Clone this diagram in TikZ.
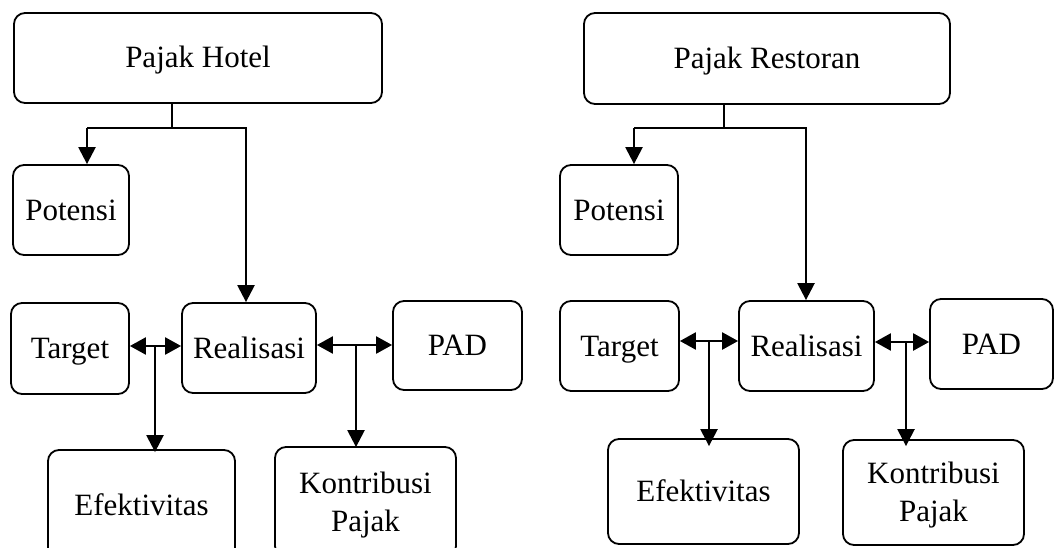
\documentclass[tikz,border=0pt]{standalone}
\usepackage{fontspec}
\setmainfont{Liberation Serif}
\usetikzlibrary{arrows.meta}
\begin{document}
\begin{tikzpicture}[x=1pt,y=-1pt,
  box/.style={draw, line width=1.8pt, rounded corners=11pt, inner sep=0pt, align=center,
    text height=24pt, text depth=4pt,
    font=\fontsize{31}{38}\selectfont},
  twoline/.style={text height=62pt},
  conn/.style={line width=2.4pt},
  darr/.style={conn, {Triangle[length=16pt,width=17pt]}-{Triangle[length=16pt,width=17pt]}},
  varr/.style={conn, -{Triangle[length=17pt,width=17pt]}}]
\clip (0,0) rectangle (1062,548);
\fill[white] (0,0) rectangle (1062,548);
% ---------- left: Pajak Hotel ----------
\node[box, minimum width=368pt, minimum height=90pt] (hotel) at (198,58) {Pajak Hotel};
\node[box, minimum width=116pt, minimum height=90pt] (potL) at (71,210) {Potensi};
\node[box, minimum width=118pt, minimum height=91pt] (tarL) at (70,348.5) {Target};
\node[box, minimum width=134pt, minimum height=90pt] (reaL) at (249,348) {Realisasi};
\node[box, minimum width=129pt, minimum height=89pt] (padL) at (457.5,345.5) {PAD};
\node[box, minimum width=187pt, minimum height=110pt] (efeL) at (141.5,505) {Efektivitas};
\node[box, twoline, minimum width=181pt, minimum height=110pt] (konL) at (365.5,502) {Kontribusi\\Pajak};
\coordinate (jL) at (172,128);
\coordinate (aL) at (87,128);
\coordinate (bL) at (246,128);
\coordinate (tL) at (155,346);
\coordinate (pL) at (356,345);
\draw[conn] (hotel.south -| jL) -- (jL);
\draw[conn] (aL) -- ([xshift=1pt]bL);
\draw[varr] (aL) -- (aL |- potL.north);
\draw[varr] (bL) -- (bL |- reaL.north);
\draw[darr] (tarL.east |- tL) -- (reaL.west |- tL);
\draw[varr] (tL) -- ([yshift=-3pt]tL |- efeL.north);
\draw[darr] (reaL.east |- pL) -- (padL.west |- pL);
\draw[varr] (pL) -- ([yshift=-1pt]pL |- konL.north);
% ---------- right: Pajak Restoran ----------
\node[box, minimum width=366pt, minimum height=91pt] (rest) at (767,58.5) {Pajak Restoran};
\node[box, minimum width=118pt, minimum height=90pt] (potR) at (619,210) {Potensi};
\node[box, minimum width=119pt, minimum height=90pt] (tarR) at (619.5,346) {Target};
\node[box, minimum width=135pt, minimum height=90pt] (reaR) at (806.5,346) {Realisasi};
\node[box, minimum width=123pt, minimum height=90pt] (padR) at (991.5,344) {PAD};
\node[box, minimum width=191pt, minimum height=105pt] (efeR) at (703.5,491.5) {Efektivitas};
\node[box, twoline, minimum width=181pt, minimum height=105pt] (konR) at (933.5,492.5) {Kontribusi\\Pajak};
\coordinate (jR) at (724,128);
\coordinate (aR) at (634,128);
\coordinate (bR) at (806,128);
\coordinate (tR) at (709,341);
\coordinate (pR) at (906,342);
\draw[conn] (rest.south -| jR) -- (jR);
\draw[conn] (aR) -- ([xshift=1pt]bR);
\draw[varr] (aR) -- (aR |- potR.north);
\draw[varr] (bR) -- (bR |- reaR.north);
\draw[darr] (tarR.east |- tR) -- (reaR.west |- tR);
\draw[varr] (tR) -- ([yshift=-8pt]tR |- efeR.north);
\draw[darr] (reaR.east |- pR) -- (padR.west |- pR);
\draw[varr] (pR) -- ([yshift=-7pt]pR |- konR.north);
\end{tikzpicture}
\end{document}
